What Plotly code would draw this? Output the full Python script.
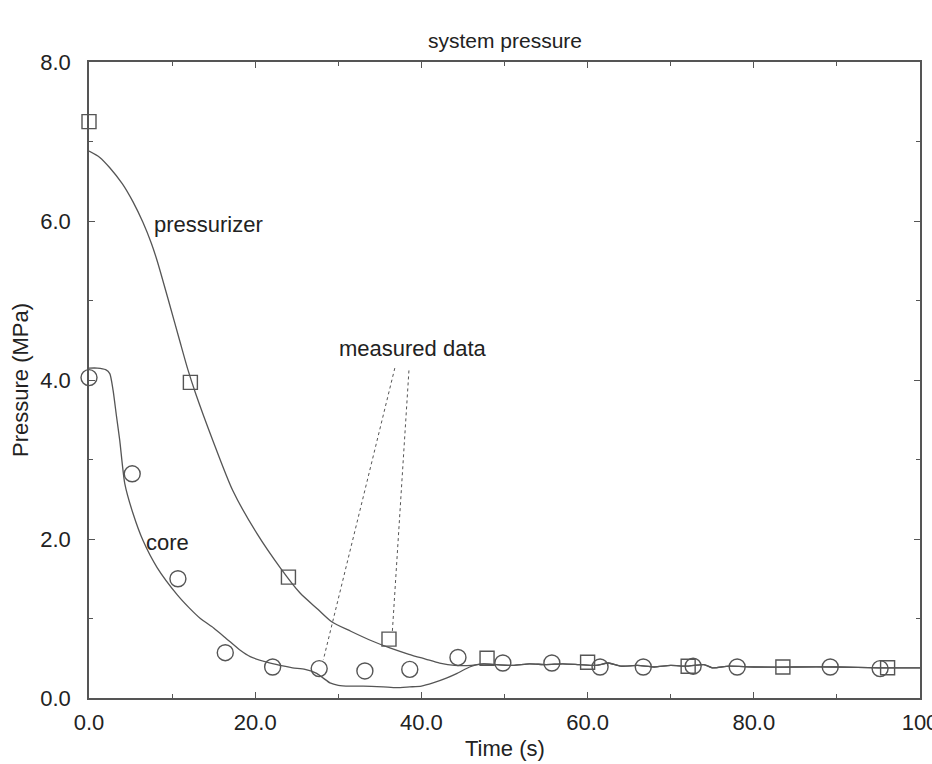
import plotly.graph_objects as go

# ---- data ----
# simulated pressurizer pressure (MPa)
pzr_t = [0, 1.3, 2.5, 4.0, 5.3, 6.5, 7.5, 8.2, 9.7, 10.9, 11.9, 12.8, 14.9, 17.3, 20.2,
         23.0, 25.4, 27.5, 29.2, 31.5, 34.0, 36.2, 38.5, 40.5, 42.2, 44.0, 46.0, 47.5]
pzr_p = [6.88, 6.80, 6.67, 6.47, 6.24, 5.98, 5.72, 5.50, 4.95, 4.50, 4.13, 3.84, 3.24, 2.61, 2.07,
         1.64, 1.32, 1.12, 0.96, 0.84, 0.72, 0.63, 0.55, 0.49, 0.44, 0.41, 0.41, 0.43]

# simulated core pressure (MPa)
core_t = [0, 1.0, 2.0, 2.5, 2.9, 3.3, 3.7, 4.3, 5.3, 6.5, 8.2, 10.6, 12.0, 13.4, 15.0, 16.5,
          18.2, 19.4, 21.4, 23.0, 24.5, 26.0, 27.4, 28.2, 29.0, 30.0, 31.4, 33.0, 35.4, 37.0,
          38.6, 40.0, 41.4, 43.0, 44.3, 45.8, 46.7, 47.5]
core_p = [4.15, 4.15, 4.13, 4.08, 3.87, 3.55, 3.24, 2.70, 2.32, 1.98, 1.64, 1.30, 1.14, 1.00, 0.88, 0.75,
          0.60, 0.52, 0.45, 0.41, 0.38, 0.36, 0.31, 0.25, 0.19, 0.16, 0.15, 0.15, 0.14, 0.13,
          0.14, 0.15, 0.19, 0.25, 0.31, 0.39, 0.42, 0.43]

# common tail once both curves have merged
tail_t = [49, 51, 53, 55, 57, 59, 61, 62.5, 64, 66, 68, 70, 72, 74, 75, 77, 80, 85, 90, 95, 100]
tail_p = [0.42, 0.41, 0.43, 0.42, 0.43, 0.42, 0.41, 0.44, 0.40, 0.41, 0.39, 0.41, 0.40, 0.42, 0.38,
          0.40, 0.39, 0.39, 0.39, 0.38, 0.38]

# measured data
sq_t = [0.0, 12.2, 24.0, 36.1, 47.9, 60.0, 72.1, 83.5, 96.1]
sq_p = [7.25, 3.97, 1.52, 0.74, 0.50, 0.45, 0.40, 0.39, 0.38]
ci_t = [0.0, 5.2, 10.7, 16.4, 22.1, 27.7, 33.2, 38.6, 44.4, 49.8, 55.7, 61.5, 66.7, 72.7, 78.0, 89.2, 95.2]
ci_p = [4.03, 2.82, 1.50, 0.57, 0.39, 0.37, 0.34, 0.36, 0.51, 0.44, 0.44, 0.39, 0.39, 0.40, 0.39, 0.39, 0.37]

# axis ticks
x_ticks = [0, 20, 40, 60, 80, 100]
x_labels = ["0.0", "20.0", "40.0", "60.0", "80.0", "100"]
y_ticks = [0, 2, 4, 6, 8]
y_labels = ["0.0", "2.0", "4.0", "6.0", "8.0"]

# pointer lines of the "measured data" label: (t0, p0, t1, p1)
pointer_1 = (36.8, 4.15, 28.2, 0.48)
pointer_2 = (38.5, 4.12, 36.5, 0.83)

LINE = "#555555"
TEXT = "#222222"
FONT = "Liberation Sans, Arial, Helvetica, sans-serif"
FS = 22

fig = go.Figure()
fig.add_trace(go.Scatter(x=pzr_t + tail_t, y=pzr_p + tail_p, mode="lines",
                         line=dict(color=LINE, width=1.3, shape="spline", smoothing=0.7),
                         showlegend=False))
fig.add_trace(go.Scatter(x=core_t + tail_t, y=core_p + tail_p, mode="lines",
                         line=dict(color=LINE, width=1.3, shape="spline", smoothing=0.6),
                         showlegend=False))
fig.add_trace(go.Scatter(x=sq_t, y=sq_p, mode="markers", cliponaxis=False,
                         marker=dict(symbol="square-open", size=14, color=LINE,
                                     line=dict(width=1.4)), showlegend=False))
fig.add_trace(go.Scatter(x=ci_t, y=ci_p, mode="markers", cliponaxis=False,
                         marker=dict(symbol="circle-open", size=16, color=LINE,
                                     line=dict(width=1.4)), showlegend=False))

for (a, b, c, d) in (pointer_1, pointer_2):
    fig.add_shape(type="line", xref="x", yref="y", x0=a, y0=b, x1=c, y1=d,
                  line=dict(color=LINE, width=1, dash="dot"))

def label(text, x, y):
    fig.add_annotation(x=x, y=y, xref="x", yref="y", text=text, showarrow=False,
                       xanchor="center", yanchor="middle",
                       font=dict(size=FS, color=TEXT, family=FONT))

label("pressurizer", 14.4, 5.96)
label("core", 9.4, 1.95)
label("measured data", 39.0, 4.40)

fig.add_annotation(x=0.5, y=1, xref="paper", yref="paper", yshift=22, text="system pressure",
                   xanchor="center", yanchor="middle",
                   showarrow=False, font=dict(size=FS - 1, color=TEXT, family=FONT))
fig.add_annotation(x=0.5, y=0, xref="paper", yref="paper", yshift=-50, text="Time (s)",
                   xanchor="center", yanchor="middle",
                   showarrow=False, font=dict(size=FS, color=TEXT, family=FONT))
fig.add_annotation(x=0, y=0.5, xref="paper", yref="paper", xshift=-69, text="Pressure (MPa)",
                   xanchor="center", yanchor="middle",
                   textangle=-90, showarrow=False, font=dict(size=FS, color=TEXT, family=FONT))

axis_common = dict(showline=True, linecolor=LINE, linewidth=1.5, mirror="ticks",
                   ticks="inside", ticklen=6, tickwidth=1.2, tickcolor=LINE,
                   showgrid=False, zeroline=False, automargin=False,
                   ticklabeloverflow="allow",
                   tickfont=dict(size=FS, color=TEXT, family=FONT),
                   minor=dict(ticks="inside", ticklen=4, tickcolor=LINE, showgrid=False))

fig.update_xaxes(range=[0, 100], tickvals=x_ticks, ticktext=x_labels,
                 minor_dtick=10, ticklabelstandoff=4, **axis_common)
fig.update_yaxes(range=[0, 8], tickvals=y_ticks, ticktext=y_labels,
                 minor_dtick=1, ticklabelstandoff=12, **axis_common)

fig.update_layout(width=932, height=764, margin=dict(l=89, r=12, t=62, b=66),
                  paper_bgcolor="white", plot_bgcolor="white",
                  font=dict(family=FONT, color=TEXT))

fig.write_html("out.html", config={"displayModeBar": False},
               post_script="document.body.style.margin='0';document.body.style.overflow='hidden';")
